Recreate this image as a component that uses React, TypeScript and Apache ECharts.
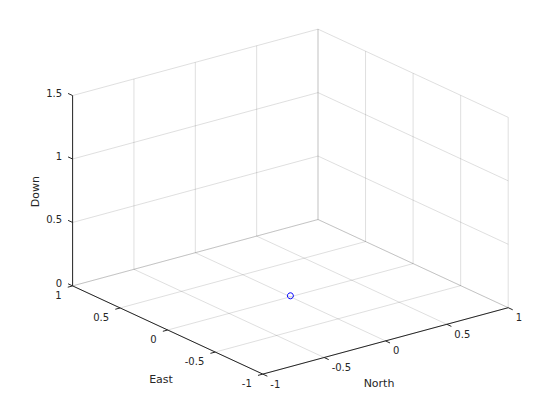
import React, { useEffect, useRef } from "react";
import * as echarts from "echarts";

// ---- data ----
const eastTicks = [1, 0.5, 0, -0.5, -1];
const eastLabels = ["1", "0.5", "0", "-0.5", "-1"];
const northTicks = [-1, -0.5, 0, 0.5, 1];
const northLabels = ["-1", "-0.5", "0", "0.5", "1"];
const downTicks = [0, 0.5, 1, 1.5];
const downLabels = ["0", "0.5", "1", "1.5"];
const pointEast = [0];
const pointNorth = [0];
const pointDown = [0];
const axisNames = ["East", "North", "Down"];

const E_MIN = -1, E_MAX = 1;
const N_MIN = -1, N_MAX = 1;
const D_MIN = 0, D_MAX = 1.5;

// ---- orthographic projection (layout) ----
const ORIGIN = [290.4, 296.8];
const EX = [-95.1, -44.1];
const EN = [122.7, -33.2];
const ED = [0, -126.9];

function proj(e: number, n: number, d: number): [number, number] {
  return [
    ORIGIN[0] + e * EX[0] + n * EN[0] + d * ED[0],
    ORIGIN[1] + e * EX[1] + n * EN[1] + d * ED[1],
  ];
}
function unit(v: number[]): [number, number] {
  const l = Math.hypot(v[0], v[1]);
  return [v[0] / l, v[1] / l];
}

const TEXT = "#262626";
const GRID = "rgba(38,38,38,0.15)";
const FONT = '"DejaVu Sans", "Liberation Sans", sans-serif';

// grid segments [e1,n1,d1,e2,n2,d2]
const gridSegs: number[][] = [];
eastTicks.forEach((e) => gridSegs.push([e, N_MIN, D_MIN, e, N_MAX, D_MIN]));
northTicks.forEach((n) => gridSegs.push([E_MIN, n, D_MIN, E_MAX, n, D_MIN]));
northTicks.forEach((n) => gridSegs.push([E_MAX, n, D_MIN, E_MAX, n, D_MAX]));
downTicks.forEach((d) => gridSegs.push([E_MAX, N_MIN, d, E_MAX, N_MAX, d]));
eastTicks.forEach((e) => gridSegs.push([e, N_MAX, D_MIN, e, N_MAX, D_MAX]));
downTicks.forEach((d) => gridSegs.push([E_MIN, N_MAX, d, E_MAX, N_MAX, d]));

const axisSegs: number[][] = [
  [E_MIN, N_MIN, D_MIN, E_MAX, N_MIN, D_MIN],
  [E_MIN, N_MIN, D_MIN, E_MIN, N_MAX, D_MIN],
  [E_MAX, N_MIN, D_MIN, E_MAX, N_MIN, D_MAX],
];

// tick points: [axisIndex, e, n, d]
const tickPts: number[][] = [
  ...eastTicks.map((e) => [0, e, N_MIN, D_MIN]),
  ...northTicks.map((n) => [1, E_MIN, n, D_MIN]),
  ...downTicks.map((d) => [2, E_MAX, N_MIN, d]),
];
const tickTexts = [...eastLabels, ...northLabels, ...downLabels];

const TICK_LEN = 5;
const tickDirs = [
  unit([-EN[0], -EN[1]]),
  unit([-EX[0], -EX[1]]),
  unit([EX[0], EX[1]]),
];
const labelOffsets = [
  [-11, 9.5],
  [7.5, 10],
  [-10.5, -2.5],
];
const labelAligns = ["right", "left", "right"];
const nameOffsets = [
  [-6.7, 49.3],
  [-6.5, 43],
  [-37.6, 1],
];
const namePts: number[][] = [
  [0, (E_MIN + E_MAX) / 2, N_MIN, D_MIN],
  [1, E_MIN, (N_MIN + N_MAX) / 2, D_MIN],
  [2, E_MAX, N_MIN, (D_MIN + D_MAX) / 2],
];

const pointData = pointEast.map((e, i) => [e, pointNorth[i], pointDown[i]]);

function segRender(color: string) {
  return (params: any, api: any) => {
    const a = proj(api.value(0), api.value(1), api.value(2));
    const b = proj(api.value(3), api.value(4), api.value(5));
    return {
      type: "line",
      shape: { x1: a[0], y1: a[1], x2: b[0], y2: b[1] },
      style: { stroke: color, lineWidth: 1, fill: null },
    };
  };
}

const option: any = {
  animation: false,
  backgroundColor: "#ffffff",
  series: [
    {
      type: "custom",
      coordinateSystem: "none",
      silent: true,
      data: gridSegs,
      renderItem: segRender(GRID),
    },
    {
      type: "custom",
      coordinateSystem: "none",
      silent: true,
      data: axisSegs,
      renderItem: segRender(TEXT),
    },
    {
      type: "custom",
      coordinateSystem: "none",
      silent: true,
      data: tickPts,
      renderItem: (params: any, api: any) => {
        const ax = api.value(0);
        const p = proj(api.value(1), api.value(2), api.value(3));
        const dir = tickDirs[ax];
        const off = labelOffsets[ax];
        return {
          type: "group",
          children: [
            {
              type: "line",
              shape: {
                x1: p[0],
                y1: p[1],
                x2: p[0] + dir[0] * TICK_LEN,
                y2: p[1] + dir[1] * TICK_LEN,
              },
              style: { stroke: TEXT, lineWidth: 1 },
            },
            {
              type: "text",
              x: p[0] + off[0],
              y: p[1] + off[1],
              style: {
                text: tickTexts[params.dataIndex],
                fill: TEXT,
                font: `10px ${FONT}`,
                align: labelAligns[ax],
                textAlign: labelAligns[ax],
                verticalAlign: "middle",
                textVerticalAlign: "middle",
              },
            },
          ],
        };
      },
    },
    {
      type: "custom",
      coordinateSystem: "none",
      silent: true,
      data: namePts,
      renderItem: (params: any, api: any) => {
        const ax = api.value(0);
        const p = proj(api.value(1), api.value(2), api.value(3));
        const off = nameOffsets[ax];
        return {
          type: "text",
          x: p[0] + off[0],
          y: p[1] + off[1],
          rotation: ax === 2 ? Math.PI / 2 : 0,
          style: {
            text: axisNames[ax],
            fill: TEXT,
            font: `11px ${FONT}`,
            align: "center",
            textAlign: "center",
            verticalAlign: "middle",
            textVerticalAlign: "middle",
          },
        };
      },
    },
    {
      type: "custom",
      coordinateSystem: "none",
      silent: true,
      data: pointData,
      renderItem: (params: any, api: any) => {
        const p = proj(api.value(0), api.value(1), api.value(2));
        return {
          type: "circle",
          shape: { cx: p[0], cy: p[1] - 1, r: 3 },
          style: { stroke: "#0000ff", lineWidth: 1, fill: null },
        };
      },
    },
  ],
};

export default function App() {
  const ref = useRef<HTMLDivElement>(null);
  useEffect(() => {
    const chart = echarts.init(ref.current!, undefined, { renderer: "svg" });
    chart.setOption(option);
    return () => chart.dispose();
  }, []);
  return (
    <div
      ref={ref}
      style={{
        position: "fixed",
        left: 0,
        top: 0,
        width: 560,
        height: 420,
        background: "#fff",
      }}
    />
  );
}
